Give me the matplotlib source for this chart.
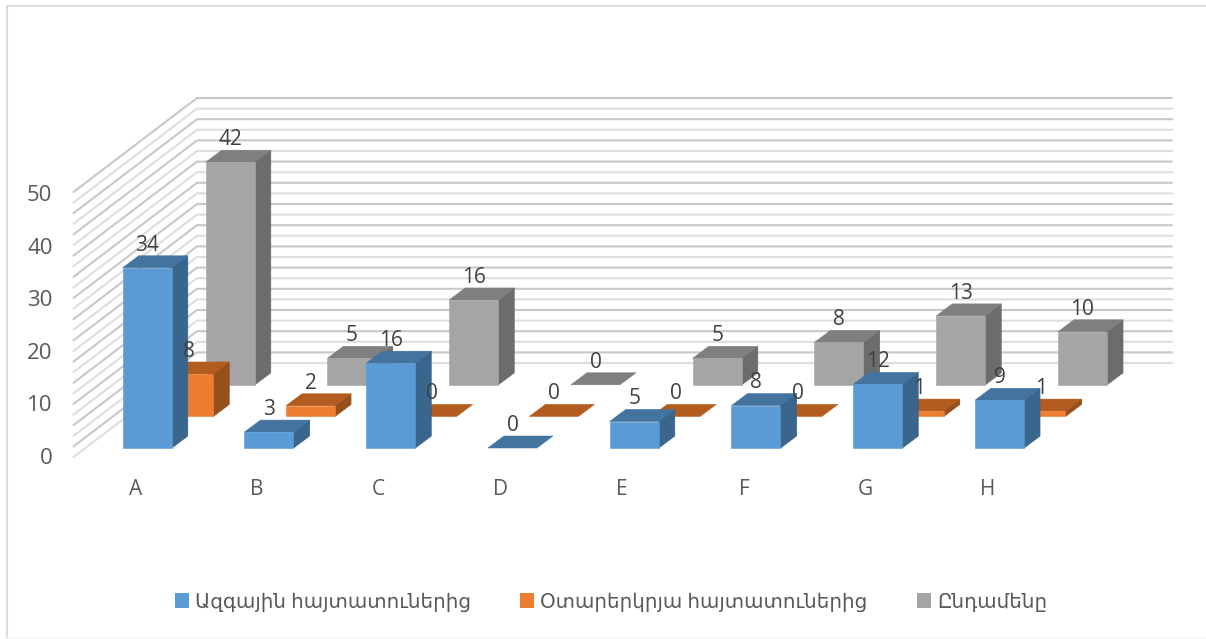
import numpy as np
import matplotlib
matplotlib.use("Agg")
import matplotlib.pyplot as plt
from matplotlib.patches import Polygon, Patch

categories = ["A", "B", "C", "D", "E", "F", "G", "H"]
national = [34, 3, 16, 0, 5, 8, 12, 9]
foreign = [8, 2, 0, 0, 0, 0, 1, 1]
total = [42, 5, 16, 0, 5, 8, 13, 10]
series_names = ["Ազգային հայտատուներից", "Օտարերկրյա հայտատուներից", "Ընդամենը"]
y_ticks = [0, 10, 20, 30, 40, 50]
grid_values = list(range(0, 51, 2))

W, H = 1206, 639
plt.rcParams['font.family'] = ['Open Sans', 'DejaVu Sans']
fig = plt.figure(figsize=(W / 100, H / 100), dpi=100, facecolor='white')
ax = fig.add_axes([0, 0, 1, 1])

PX_X = 121.75   # pixels per category
PX_Y = 5.3      # pixels per value unit
X0, Y0 = 122.7, 448.0
ax.set_xlim(-X0 / PX_X, (W - X0) / PX_X)
ax.set_ylim((Y0 - H) / PX_Y, Y0 / PX_Y)
ax.axis('off')

px = lambda v: v / PX_X
py = lambda v: v / PX_Y
X = lambda p: (p - X0) / PX_X
Y = lambda p: (Y0 - p) / PX_Y

BAR_W = px(49)
BAR_DX, BAR_DY = px(16), py(12)
SER_DX, SER_DY = px(41.5), py(31.6)

# chart frame: strong left and top edges, a faint bottom edge
ax.plot([X(6.5), X(6.5), X(1206)], [Y(638), Y(6), Y(6)], color='#dcdcdc', lw=1.5, zorder=0)
ax.plot([X(6.5), X(1206)], [Y(638), Y(638)], color='#f4f4f4', lw=1.2, zorder=0)

# walls with gridlines: the resampled original alternates darker and paler lines
wx0, wx1, wx2 = X(73.5), X(197), X(1172)
wy_front, wy_back = Y(457), Y(363)
for k, g in enumerate(grid_values):
    ax.plot([wx0, wx1, wx2], [wy_front + g, wy_back + g, wy_back + g],
            color='#c8c8c8' if k % 2 else '#dedede', lw=1.5, zorder=1,
            solid_joinstyle='miter', solid_capstyle='round')

styles = [
    ('#5B9BD5', '#4374A0', '#3A658C'),
    ('#ED7D31', '#B35C20', '#96501E'),
    ('#A5A5A5', '#7F7F7F', '#6C6C6C'),
]
series = [national, foreign, total]

for s in [2, 1, 0]:
    front, top, side = styles[s]
    off_x, off_y = s * SER_DX, s * SER_DY
    for i, v in enumerate(series[s]):
        x = i + off_x
        z = 3 + (2 - s) * 2 + i * 0.01
        if v > 0:
            ax.add_patch(Polygon([(x + BAR_W, off_y), (x + BAR_W + BAR_DX, off_y + BAR_DY),
                                  (x + BAR_W + BAR_DX, off_y + v + BAR_DY), (x + BAR_W, off_y + v)],
                                 fc=side, ec=side, lw=0.6, zorder=z))
        ax.add_patch(Polygon([(x, off_y + v), (x + BAR_W, off_y + v),
                              (x + BAR_W + BAR_DX, off_y + v + BAR_DY), (x + BAR_DX, off_y + v + BAR_DY)],
                             fc=top, ec=top, lw=0.4, zorder=z))
        if v > 0:
            ax.bar(x, v, width=BAR_W, bottom=off_y, align='edge', color=front,
                   edgecolor=front, linewidth=0.4, zorder=z + 0.001)
        ax.text(x + BAR_W / 2, off_y + v + py(22.7), str(v), ha='center', va='center',
                fontsize=15, color='#404040', zorder=20)

# value axis labels
for t in y_ticks:
    ax.text(X(52.5), Y(458) + t * 5.25 / PX_Y, str(t), ha='right', va='center',
            fontsize=16, color='#595959', zorder=20)

# category labels
for i, c in enumerate(categories):
    ax.text(i + px(12.5), Y(489), c, ha='center', va='center',
            fontsize=15, color='#595959', zorder=20)

handles = [Patch(fc=styles[k][0], ec='none', label=series_names[k]) for k in range(3)]
leg = ax.legend(handles=handles, ncol=3, loc='center', frameon=False,
                bbox_to_anchor=(611 / W, 1 - 602.5 / H), bbox_transform=fig.transFigure,
                fontsize=14.35, labelcolor='#595959', handlelength=0.72, handleheight=0.72,
                handletextpad=0.3, columnspacing=2.45, borderpad=0)
leg.set_zorder(30)

fig.savefig('out.png', dpi=100)
